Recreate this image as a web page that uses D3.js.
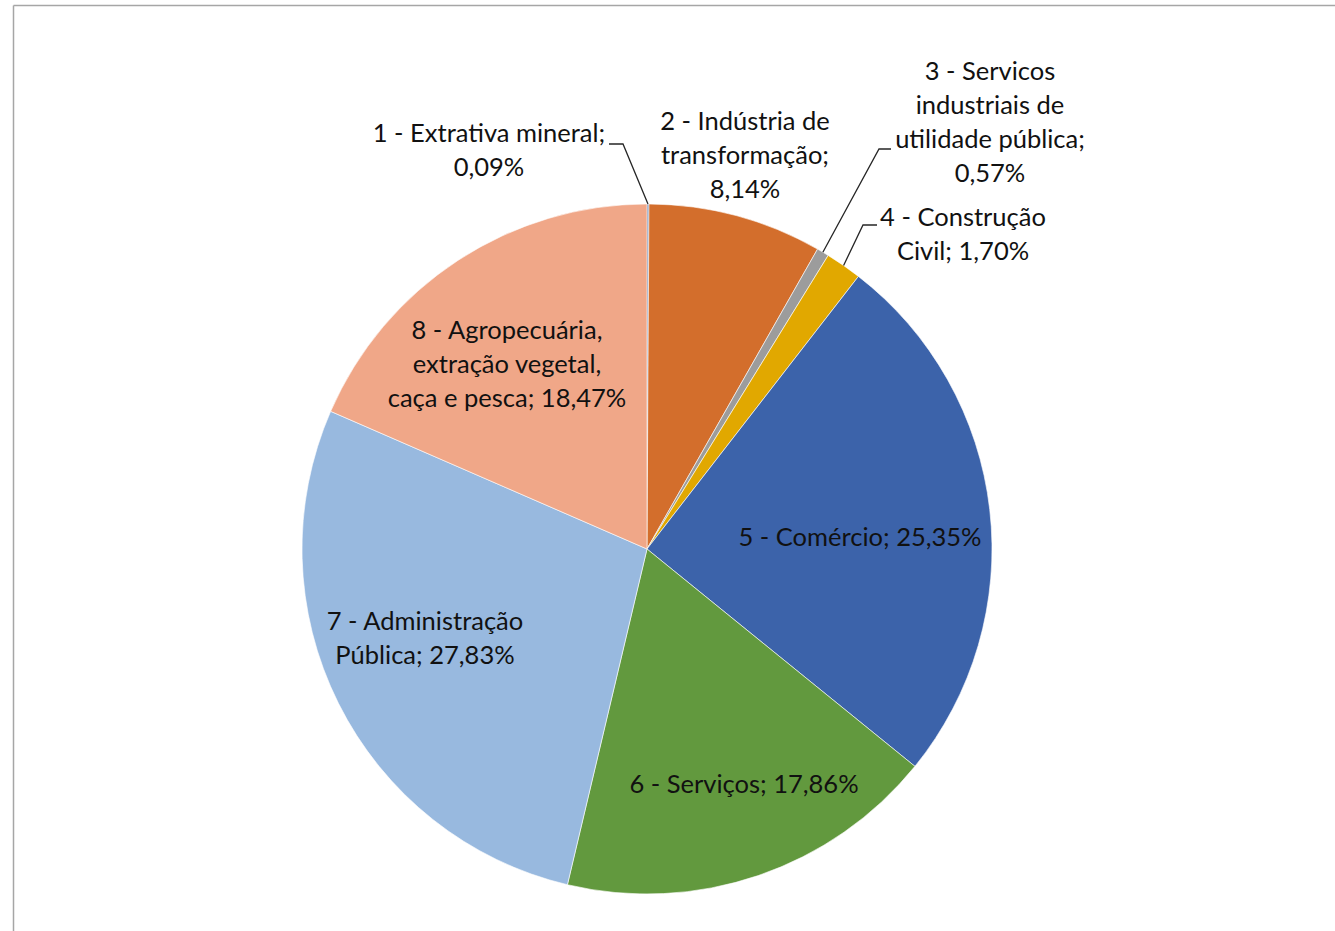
<!DOCTYPE html>
<html>
<head>
<meta charset="utf-8">
<script src="https://cdn.jsdelivr.net/npm/d3@7"></script>
<style>
  html, body { margin: 0; padding: 0; background: #fff; }
  svg { display: block; }
  text { font-family: Lato, "Open Sans", sans-serif; }
</style>
</head>
<body>
<svg id="chart" width="1335" height="931"></svg>
<script>
// ---- data ----
const categories = [
  "1 - Extrativa mineral",
  "2 - Indústria de transformação",
  "3 - Servicos industriais de utilidade pública",
  "4 - Construção Civil",
  "5 - Comércio",
  "6 - Serviços",
  "7 - Administração Pública",
  "8 - Agropecuária, extração vegetal, caça e pesca"
];
const values = [0.09, 8.14, 0.57, 1.70, 25.35, 17.86, 27.83, 18.47];
const valueLabels = ["0,09%", "8,14%", "0,57%", "1,70%", "25,35%", "17,86%", "27,83%", "18,47%"];
const labelLines = [
  ["1 - Extrativa mineral;", "0,09%"],
  ["2 - Indústria de", "transformação;", "8,14%"],
  ["3 - Servicos", "industriais de", "utilidade pública;", "0,57%"],
  ["4 - Construção", "Civil; 1,70%"],
  ["5 - Comércio; 25,35%"],
  ["6 - Serviços; 17,86%"],
  ["7 - Administração", "Pública; 27,83%"],
  ["8 - Agropecuária,", "extração vegetal,", "caça e pesca; 18,47%"]
];
const colors = ["#5878AC", "#D36E2C", "#9C9C9C", "#E1A800", "#3C63AA", "#62993E", "#98B9DF", "#F0A788"];

// ---- layout (styling, not data) ----
const W = 1335, H = 931;
const cx = 647, cy = 549, R = 345;
const fontSize = 25.5, lineH = 34;
// label block centre (x) and first baseline (y)
const labelLayout = [
  {x: 489, y: 142},
  {x: 745, y: 130},
  {x: 990, y: 80},
  {x: 963, y: 226},
  {x: 860, y: 546},
  {x: 744, y: 793},
  {x: 425, y: 630},
  {x: 507, y: 339}
];
// leader lines: horizontal segment ends and y for slices with callouts
const leaders = {
  0: {hx1: 609, hx2: 623, hy: 144},
  2: {hx1: 891, hx2: 879, hy: 149},
  3: {hx1: 877, hx2: 863, hy: 225}
};

const svg = d3.select("#chart");

// frame
svg.append("line").attr("x1", 13.5).attr("y1", 5.5).attr("x2", W).attr("y2", 5.5)
  .attr("stroke", "#a6a6a6").attr("stroke-width", 1.5);
svg.append("line").attr("x1", 13.5).attr("y1", 5.5).attr("x2", 13.5).attr("y2", H)
  .attr("stroke", "#a6a6a6").attr("stroke-width", 1.5);

const pie = d3.pie().value(d => d).sort(null).startAngle(0).endAngle(2 * Math.PI);
const arcs = pie(values);
const arc = d3.arc().innerRadius(0).outerRadius(R);

const g = svg.append("g").attr("transform", `translate(${cx},${cy})`);
g.selectAll("path.slice").data(arcs).join("path")
  .attr("class", "slice")
  .attr("d", arc)
  .attr("fill", (d, i) => colors[i])
  .attr("stroke", "#ffffff")
  .attr("stroke-width", 0.6)
  .attr("stroke-linejoin", "round");

// leader lines
Object.keys(leaders).forEach(k => {
  const i = +k;
  const a = arcs[i];
  const mid = (a.startAngle + a.endAngle) / 2;
  const px = cx + R * Math.sin(mid);
  const py = cy - R * Math.cos(mid);
  const L = leaders[k];
  svg.append("polyline")
    .attr("points", `${L.hx1},${L.hy} ${L.hx2},${L.hy} ${px},${py}`)
    .attr("fill", "none")
    .attr("stroke", "#262626")
    .attr("stroke-width", 1.3);
});

// labels
const lg = svg.append("g");
labelLines.forEach((lines, i) => {
  const t = lg.append("text")
    .attr("x", labelLayout[i].x)
    .attr("y", labelLayout[i].y)
    .attr("text-anchor", "middle")
    .attr("font-size", fontSize)
    .attr("fill", "#111");
  lines.forEach((s, j) => {
    t.append("tspan").attr("x", labelLayout[i].x).attr("dy", j === 0 ? 0 : lineH).text(s);
  });
});
</script>
</body>
</html>
